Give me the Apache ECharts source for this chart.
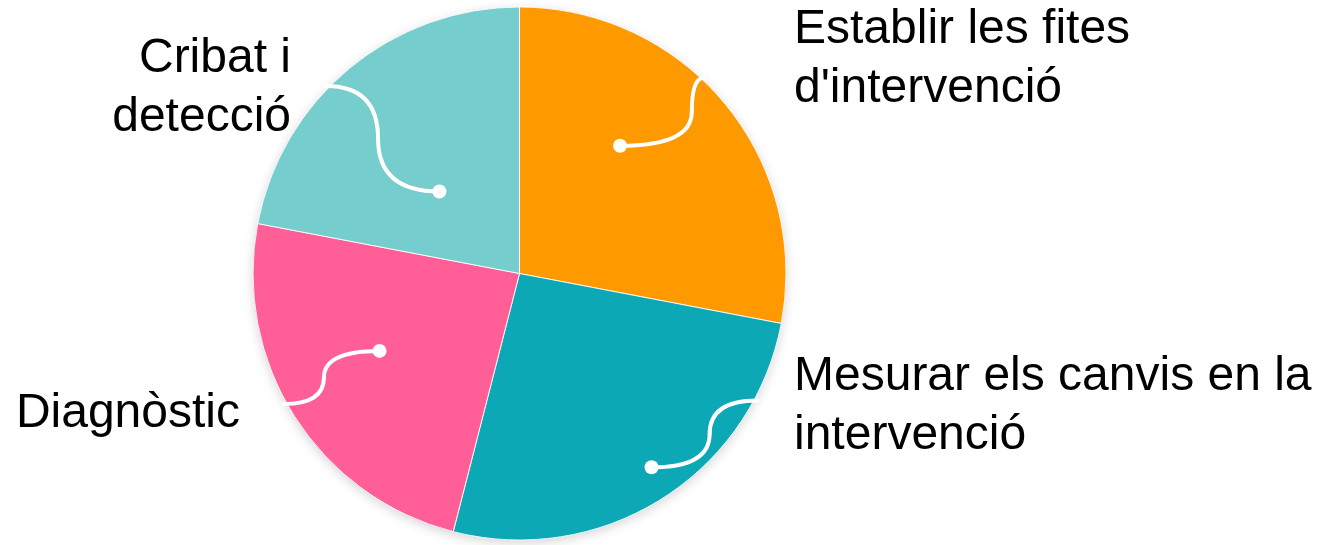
<!DOCTYPE html>
<html><head><meta charset="utf-8">
<script src="https://cdn.jsdelivr.net/npm/echarts@6/dist/echarts.min.js"></script>
<style>html,body{margin:0;padding:0;background:#fff}#main{width:1333px;height:545px}</style>
</head><body><div id="main"></div>
<script>
// ---- data ----
const categories = ["Establir les fites\nd'intervenció", "Mesurar els canvis en la\nintervenció", "Diagnòstic", "Cribat i\ndetecció"];
const values = [28, 26, 24, 22];
const colors = ['#FF9900', '#0DA8B5', '#FF5E96', '#76CDCD'];

// ---- style (label placement and decorative tick geometry) ----
const labelStyle = [
  {x: 794, y: 59, align: 'left'},
  {x: 794, y: 406, align: 'left'},
  {x: 240, y: 414, align: 'right'},
  {x: 291, y: 88, align: 'right'}
];
const tickStyle = [
  {dotAt: 0.379, dotR: 0.61, edgeAt: 0.43, bend: 0.85},
  {dotAt: 0.48, dotR: 0.88, edgeAt: 0.185, bend: 0.55},
  {dotAt: 0.54, dotR: 0.60, edgeAt: 0.54, bend: 0.58},
  {dotAt: 0.44, dotR: 0.43, edgeAt: 0.42, bend: 0.54}
];
const PIE_CENTER = [519.5, 273.5];
const PIE_RADIUS = 266.5;
const FONT = '"Liberation Sans", Arial, Helvetica, sans-serif';

const chart = echarts.init(document.getElementById('main'), null, {renderer: 'canvas'});
chart.setOption({
  animation: false,
  backgroundColor: '#fff',
  series: [{
    type: 'pie',
    center: PIE_CENTER,
    radius: PIE_RADIUS,
    startAngle: 90,
    clockwise: true,
    avoidLabelOverlap: false,
    data: categories.map((c, i) => ({name: c, value: values[i], itemStyle: {color: colors[i]}})),
    itemStyle: {borderColor: 'rgba(255,255,255,0.85)', borderWidth: 1},
    label: {
      show: true, position: 'outside', formatter: '{b}',
      fontSize: 48, lineHeight: 59, fontFamily: FONT, color: '#000'
    },
    labelLine: {show: false},
    labelLayout: function (p) {
      const s = labelStyle[p.dataIndex];
      return {x: s.x, y: s.y, align: s.align, verticalAlign: 'middle'};
    },
    emphasis: {disabled: true},
    silent: true
  }]
});

// compute decorative ticks from the library's pie layout
function getLayouts() {
  try {
    const data = chart.getModel().getSeriesByIndex(0).getData();
    const out = [];
    for (let i = 0; i < data.count(); i++) out.push(data.getItemLayout(i));
    if (out.length && out[0] && isFinite(out[0].cx)) return out;
  } catch (e) {}
  const total = values.reduce((a, b) => a + b, 0);
  let a = -Math.PI / 2;
  return values.map(v => {
    const span = v / total * Math.PI * 2;
    const l = {cx: PIE_CENTER[0], cy: PIE_CENTER[1], r: PIE_RADIUS, startAngle: a, endAngle: a + span};
    a += span; return l;
  });
}
const layouts = getLayouts();
const elements = [];
const L0 = layouts[0];
elements.push({
  type: 'circle', z: -1, silent: true,
  shape: {cx: L0.cx, cy: L0.cy, r: L0.r - 0.5},
  style: {fill: '#fff', shadowBlur: 12, shadowColor: 'rgba(0,0,0,0.18)', shadowOffsetY: 3}
});
layouts.forEach((L, i) => {
  const t = tickStyle[i];
  const aDot = L.startAngle + (L.endAngle - L.startAngle) * t.dotAt;
  const aEdge = L.startAngle + (L.endAngle - L.startAngle) * t.edgeAt;
  const x0 = L.cx + t.dotR * L.r * Math.cos(aDot), y0 = L.cy + t.dotR * L.r * Math.sin(aDot);
  const x3 = L.cx + (L.r + 3) * Math.cos(aEdge), y3 = L.cy + (L.r + 3) * Math.sin(aEdge);
  const mx = x0 + (x3 - x0) * t.bend, my = (y0 + y3) / 2;
  const ls = {stroke: '#fff', lineWidth: 4, fill: null, lineCap: 'round'};
  elements.push({type: 'bezierCurve', z: 100, silent: true,
    shape: {x1: x0, y1: y0, cpx1: mx, cpy1: y0, x2: mx, y2: my}, style: ls});
  elements.push({type: 'bezierCurve', z: 100, silent: true,
    shape: {x1: mx, y1: my, cpx1: mx, cpy1: y3, x2: x3, y2: y3}, style: ls});
  elements.push({type: 'circle', z: 101, silent: true,
    shape: {cx: x0, cy: y0, r: 7}, style: {fill: '#fff'}});
});
chart.setOption({graphic: {elements: elements}});
</script></body></html>
